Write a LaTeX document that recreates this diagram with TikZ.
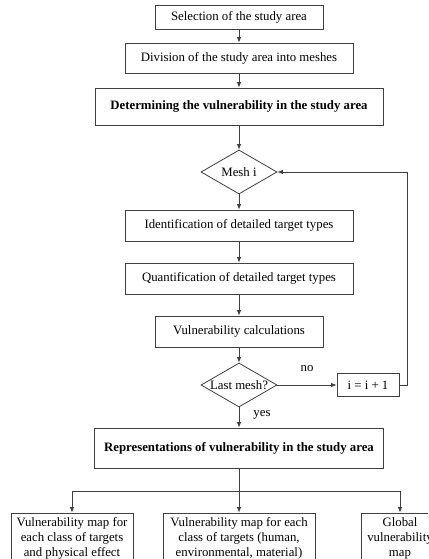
\documentclass[tikz,border=0pt]{standalone}
\usepackage{fontspec}
\setmainfont{Liberation Serif}
\usetikzlibrary{shapes.geometric,arrows.meta}
\begin{document}
\begin{tikzpicture}[x=1pt,y=-1pt,
  font=\fontsize{12.8}{15}\selectfont,
  line/.style={draw=black!75,line width=0.8pt},
  arr/.style={line,-{Latex[length=5.5pt,width=4.5pt]}},
  box/.style={draw=black!75,line width=0.8pt,rectangle,inner sep=0pt,align=center,anchor=center},
  dia/.style={draw=black!75,line width=0.8pt,diamond,inner sep=0pt,minimum width=76pt,minimum height=44pt},
  lbl/.style={inner sep=0pt}]
\useasboundingbox (0,0) rectangle (428,559);
\clip (0,0) rectangle (428,559);
\fill[white] (0,0) rectangle (428,559);
\node[box,minimum width=168pt,minimum height=24pt] (sel) at (239,17) {Selection of the study area};
\node[box,minimum width=228pt,minimum height=30pt] (div) at (239,58) {Division of the study area into meshes};
\node[box,minimum width=288pt,minimum height=37pt] (det) at (239,106.5) {\bfseries Determining the vulnerability in the study area};
\node[dia] (mesh) at (239,172) {\makebox[0pt]{Mesh i}};
\node[box,minimum width=228pt,minimum height=31pt] (ident) at (239,225.5) {Identification of detailed target types};
\node[box,minimum width=228pt,minimum height=31pt] (quant) at (239,278.5) {Quantification of detailed target types};
\node[box,minimum width=168pt,minimum height=31pt] (calc) at (239,331.5) {Vulnerability calculations};
\node[dia] (last) at (239,385) {\makebox[0pt]{Last mesh?}};
\node[box,minimum width=62pt,minimum height=23pt] (inc) at (368,385) {i = i + 1};
\node[lbl] (no) at (307,369) {no};
\node[lbl] (yes) at (262,415) {yes};
\node[box,minimum width=289pt,minimum height=40pt] (rep) at (239,448) {\bfseries Representations of vulnerability in the study area};
\node[box,minimum width=122pt,minimum height=51pt] (mapa) at (72,538.5) {Vulnerability map for\\each class of targets\\and physical effect};
\node[box,minimum width=152pt,minimum height=51pt] (mapb) at (239,538.5) {Vulnerability map for each\\class of targets (human,\\environmental, material)};
\node[box,minimum width=78pt,minimum height=51pt] (mapc) at (400,538.5) {Global\\vulnerability\\map};
\coordinate (fbr) at (407,385);
\coordinate (fbt) at (407,172);
\coordinate (split) at (239,491);
\draw[arr] (sel) -- (div);
\draw[arr] (div) -- (det);
\draw[arr] (det) -- (mesh);
\draw[arr] (mesh) -- (ident);
\draw[arr] (ident) -- (quant);
\draw[arr] (quant) -- (calc);
\draw[arr] (calc) -- (last);
\draw[arr] (last) -- (inc);
\draw[arr] (last) -- (rep);
\draw[arr] (inc.east) -- (fbr) -- (fbt) -- (mesh.east);
\draw[line] (rep.south) -- (split);
\draw[arr] (split) -| (mapa.north);
\draw[arr] (split) -- (mapb.north);
\draw[arr] (split) -| (mapc.north);
\end{tikzpicture}
\end{document}
